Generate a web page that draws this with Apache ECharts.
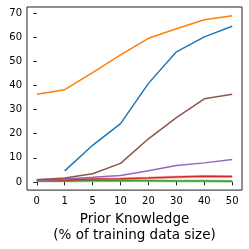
<!DOCTYPE html>
<html><head><meta charset="utf-8">
<script src="https://cdn.jsdelivr.net/npm/echarts@6/dist/echarts.min.js"></script>
<style>html,body{margin:0;padding:0;background:#fff}#c{width:249px;height:249px}</style>
</head><body><div id="c"></div>
<script>
const categories = ['0','1','5','10','20','30','40','50'];
const yTicks = [0,10,20,30,40,50,60,70];
const blue   = [null, 4.6, 15.2, 24.2, 40.9, 54.0, 60.2, 64.6];
const orange = [36.4, 38.3, 45.4, 52.7, 59.6, 63.6, 67.3, 69.0];
const green  = [0.4, 0.4, 0.5, 0.5, 0.5, 0.4, 0.4, 0.3];
const red    = [0.8, 0.8, 1.2, 1.35, 1.6, 2.0, 2.3, 2.2];
const purple = [0.5, 1.2, 1.9, 2.7, 4.6, 6.8, 7.9, 9.3];
const brown  = [0.9, 1.6, 3.4, 7.7, 17.9, 26.7, 34.5, 36.4];

const pts = arr => arr.map((v,i)=>[i, v]);
const F = 'DejaVu Sans';
function line(data, color, w, op, z){
  return {type:'line', data: pts(data), symbol:'none', connectNulls:false, z: z||2,
    lineStyle:{color, width:w, opacity: op==null?1:op}, itemStyle:{color}, silent:true, animation:false};
}
const chart = echarts.init(document.getElementById('c'), null, {renderer:'canvas'});
chart.setOption({
  animation:false,
  grid:{left:27, right:7, top:7, bottom:56, show:true, borderColor:'#222', borderWidth:1, backgroundColor:'transparent'},
  xAxis:{type:'value', min:-0.35, max:7.35,
    axisLine:{show:false}, splitLine:{show:false},
    axisTick:{show:true, inside:false, length:3.5, lineStyle:{color:'#222'}, customValues:[0,1,2,3,4,5,6,7]},
    axisLabel:{color:'#000', fontFamily:F, fontSize:10, margin:6, customValues:[0,1,2,3,4,5,6,7],
      formatter: v => categories[Math.round(v)]},
    name:'Prior Knowledge\n(% of training data size)', nameLocation:'middle', nameGap:19,
    nameTextStyle:{color:'#000', fontFamily:F, fontSize:13.5, lineHeight:16.5, verticalAlign:'top'}
  },
  yAxis:{type:'value', min:-3.4, max:72.6,
    axisLine:{show:false}, splitLine:{show:false},
    axisTick:{show:true, inside:false, length:3.5, lineStyle:{color:'#222'}, customValues:yTicks},
    axisLabel:{color:'#000', fontFamily:F, fontSize:10, margin:5, customValues:yTicks}
  },
  series:[
    line(blue,'#1f77b4',1.5),
    line(orange,'#ff7f0e',1.5),
    line(green,'#2ca02c',3,0.35),
    line(green,'#2ca02c',1.5),
    line(red,'#d62728',3,0.3),
    line(red,'#d62728',1.5),
    line(purple,'#9467bd',1.5),
    line(brown,'#8c564b',1.5)
  ]
});
</script></body></html>
